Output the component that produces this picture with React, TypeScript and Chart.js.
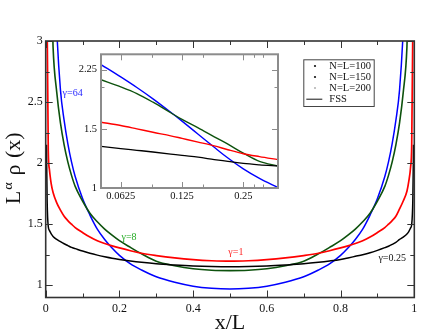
import React, { useEffect, useRef } from 'react';
import { Chart, registerables } from 'chart.js';

Chart.register(...registerables);

const SERIF = '"Liberation Serif", "Times New Roman", serif';

// ---------- main plot data ----------
const xOverL = [0.002, 0.004, 0.007, 0.01, 0.015, 0.02, 0.03, 0.04, 0.05, 0.06, 0.07, 0.08, 0.1, 0.12, 0.14, 0.16, 0.18, 0.2, 0.23, 0.26, 0.3, 0.35, 0.4, 0.45, 0.5,
  0.55, 0.6, 0.65, 0.7, 0.74, 0.77, 0.8, 0.82, 0.84, 0.86, 0.88, 0.9, 0.92, 0.93, 0.94, 0.95, 0.96, 0.97, 0.98, 0.985, 0.99, 0.993, 0.996, 0.998];

const gamma025 = [2.15, 1.68, 1.48, 1.45, 1.42, 1.40, 1.375, 1.357, 1.34, 1.325, 1.31, 1.30, 1.28, 1.262, 1.247, 1.234, 1.222, 1.212, 1.199, 1.188, 1.176, 1.166, 1.158, 1.153, 1.151,
  1.153, 1.158, 1.166, 1.176, 1.188, 1.199, 1.212, 1.224, 1.237, 1.25, 1.266, 1.286, 1.308, 1.32, 1.335, 1.352, 1.375, 1.395, 1.42, 1.44, 1.47, 1.5, 1.7, 2.15];

const gamma1 = [4.2, 3.1, 2.1, 1.95, 1.83, 1.76, 1.675, 1.615, 1.565, 1.53, 1.5, 1.472, 1.432, 1.395, 1.365, 1.342, 1.323, 1.306, 1.283, 1.262, 1.243, 1.224, 1.21, 1.201, 1.197,
  1.201, 1.21, 1.224, 1.243, 1.262, 1.283, 1.306, 1.323, 1.342, 1.365, 1.395, 1.432, 1.472, 1.5, 1.53, 1.565, 1.625, 1.69, 1.77, 1.85, 1.97, 2.15, 3.1, 4.2];

const gamma8 = [8, 6.5, 5.2, 4.4, 3.5, 2.95, 2.58, 2.33, 2.15, 2.01, 1.9, 1.81, 1.69, 1.59, 1.52, 1.46, 1.41, 1.365, 1.31, 1.258, 1.197, 1.16, 1.135, 1.123, 1.12,
  1.123, 1.135, 1.16, 1.197, 1.258, 1.31, 1.365, 1.41, 1.46, 1.52, 1.59, 1.69, 1.81, 1.9, 2.01, 2.15, 2.33, 2.58, 2.95, 3.5, 4.4, 5.2, 6.5, 8];

const gamma64 = [12, 9, 7, 5.8, 4.8, 4.1, 3.1, 2.6, 2.35, 2.16, 2.01, 1.89, 1.71, 1.575, 1.46, 1.375, 1.305, 1.245, 1.175, 1.125, 1.07, 1.025, 0.993, 0.976, 0.97,
  0.976, 0.993, 1.025, 1.07, 1.125, 1.175, 1.245, 1.305, 1.375, 1.46, 1.575, 1.71, 1.89, 2.01, 2.16, 2.35, 2.6, 3.1, 4.1, 4.8, 5.8, 7, 9, 12];

const mainXTicks = [0, 0.1, 0.2, 0.3, 0.4, 0.5, 0.6, 0.7, 0.8, 0.9, 1];
const mainXLabels = ['0', '', '0.2', '', '0.4', '', '0.6', '', '0.8', '', '1'];
const mainYTicks = [1, 1.25, 1.5, 1.75, 2, 2.25, 2.5, 2.75, 3];
const mainYLabels = ['1', '', '1.5', '', '2', '', '2.5', '', '3'];

const gammaTags = [
  { text: 'γ=64', x: 0.073, y: 2.575, color: '#1f1fff' },
  { text: 'γ=8', x: 0.226, y: 1.39, color: '#22aa22' },
  { text: 'γ=1', x: 0.516, y: 1.268, color: '#ff2a2a' },
  { text: 'γ=0.25', x: 0.94, y: 1.219, color: '#111111' },
];

const legendItems = ['N=L=100', 'N=L=150', 'N=L=200', 'FSS'];

// ---------- inset data (log-log) ----------
const insetX = [0.05, 0.0625, 0.075, 0.09, 0.11, 0.125, 0.15, 0.18, 0.21, 0.25, 0.3, 0.37];
const inBlue = [2.33, 2.141, 1.991, 1.842, 1.68, 1.581, 1.446, 1.322, 1.228, 1.14, 1.068, 1.003];
const inGreen = [2.10, 2.0, 1.91, 1.80, 1.675, 1.60, 1.51, 1.42, 1.35, 1.27, 1.2, 1.163];
const inRed = [1.57, 1.535, 1.50, 1.465, 1.43, 1.405, 1.37, 1.335, 1.30, 1.265, 1.24, 1.215];
const inBlack = [1.33, 1.31, 1.295, 1.28, 1.262, 1.25, 1.235, 1.215, 1.20, 1.183, 1.172, 1.163];

const insetXTicks = [0.0625, 0.089, 0.125, 0.159, 0.25, 0.283, 0.314];
const insetXLabels = ['0.0625', '', '0.125', '', '0.25', '', ''];
const insetYTicks = [1, 1.5, 2, 2.25];
const insetYLabels = ['1', '1.5', '', '2.25'];

const COLORS = { black: '#000000', red: '#ff0000', green: '#0d520d', blue: '#0000ff' };

function pts(xs: number[], ys: number[]) {
  return xs.map((x, i) => ({ x, y: ys[i] }));
}

function lineDs(data: any, color: string, width = 1.5) {
  return {
    data,
    borderColor: color,
    backgroundColor: color,
    borderWidth: width,
    pointRadius: 0,
    fill: false,
    cubicInterpolationMode: 'monotone' as const,
  };
}

function drawStretched(ctx: CanvasRenderingContext2D, text: string, x: number, y: number, sx: number) {
  ctx.save();
  ctx.translate(x, y);
  ctx.scale(sx, 1);
  ctx.fillText(text, 0, 0);
  ctx.restore();
}

const mainDecor = {
  id: 'mainDecor',
  afterDraw(chart: any) {
    const { ctx, chartArea: a } = chart;
    const xs = chart.scales.x;
    const ys = chart.scales.y;
    ctx.save();
    ctx.strokeStyle = '#333';
    ctx.lineWidth = 1;
    ctx.beginPath();
    xs.ticks.forEach((t: any, i: number) => {
      const p = Math.round(xs.getPixelForValue(t.value)) + 0.5;
      const len = mainXLabels[i] ? 7 : 4;
      ctx.moveTo(p, a.bottom); ctx.lineTo(p, a.bottom - len);
      ctx.moveTo(p, a.top); ctx.lineTo(p, a.top + len);
    });
    ys.ticks.forEach((t: any, i: number) => {
      const p = Math.round(ys.getPixelForValue(t.value)) + 0.5;
      const len = mainYLabels[i] ? 7 : 4;
      ctx.moveTo(a.left, p); ctx.lineTo(a.left + len, p);
      ctx.moveTo(a.right, p); ctx.lineTo(a.right - len, p);
    });
    ctx.stroke();
    ctx.lineWidth = 1.6;
    ctx.strokeRect(a.left, a.top, a.right - a.left, a.bottom - a.top);

    ctx.font = `10px ${SERIF}`;
    ctx.textAlign = 'center';
    ctx.textBaseline = 'middle';
    gammaTags.forEach((g) => {
      ctx.fillStyle = g.color;
      ctx.fillText(g.text, xs.getPixelForValue(g.x), ys.getPixelForValue(g.y));
    });

    const lx = a.left + 257.6;
    const ly = a.top + 18.3;
    ctx.fillStyle = '#fff';
    ctx.fillRect(lx, ly, 70.4, 46.7);
    ctx.strokeStyle = '#444';
    ctx.lineWidth = 1;
    ctx.strokeRect(lx + 0.5, ly + 0.5, 70.4, 46.7);
    const rows = [6.7, 17.7, 28.7, 39.4];
    ctx.font = `10.5px ${SERIF}`;
    ctx.textAlign = 'left';
    ctx.textBaseline = 'middle';
    legendItems.forEach((label, i) => {
      const ry = ly + rows[i];
      if (label === 'FSS') {
        ctx.strokeStyle = '#111';
        ctx.lineWidth = 1;
        ctx.beginPath();
        ctx.moveTo(lx + 3, ry + 0.5);
        ctx.lineTo(lx + 19, ry + 0.5);
        ctx.stroke();
      } else {
        ctx.fillStyle = i === 2 ? '#777' : '#111';
        const r = i === 2 ? 0.8 : 1.1;
        ctx.beginPath();
        ctx.arc(lx + 11.7, ry, r, 0, Math.PI * 2);
        ctx.fill();
      }
      ctx.fillStyle = '#111';
      ctx.fillText(label, lx + 26, ry + 0.5);
    });

    ctx.fillStyle = '#111';
    ctx.font = `20px ${SERIF}`;
    ctx.textAlign = 'center';
    ctx.textBaseline = 'alphabetic';
    drawStretched(ctx, 'x/L', (a.left + a.right) / 2, a.bottom + 31.5, 1.1);

    ctx.save();
    ctx.translate(a.left - 25.5, (a.top + a.bottom) / 2 - 1);
    ctx.rotate(-Math.PI / 2);
    ctx.scale(1.1, 1);
    ctx.textAlign = 'left';
    ctx.font = `20px ${SERIF}`;
    const wL = ctx.measureText('L').width;
    const wRho = ctx.measureText('ρ').width;
    const wX = ctx.measureText('(x)').width;
    ctx.font = `13px ${SERIF}`;
    const wA = ctx.measureText('α').width;
    const gap1 = 1, gap2 = 6, gap3 = 6;
    const total = wL + gap1 + wA + gap2 + wRho + gap3 + wX;
    let cx = -total / 2;
    ctx.font = `20px ${SERIF}`;
    ctx.fillText('L', cx, 0);
    cx += wL + gap1;
    ctx.font = `13px ${SERIF}`;
    ctx.fillText('α', cx, -8);
    cx += wA + gap2;
    ctx.font = `20px ${SERIF}`;
    ctx.fillText('ρ', cx, 0);
    cx += wRho + gap3;
    ctx.fillText('(x)', cx, 0);
    ctx.restore();

    ctx.restore();
  },
};

const insetDecor = {
  id: 'insetDecor',
  beforeDatasetsDraw(chart: any) {
    const { ctx, chartArea: a } = chart;
    ctx.save();
    ctx.fillStyle = '#fff';
    ctx.fillRect(a.left, a.top, a.right - a.left, a.bottom - a.top);
    ctx.restore();
  },
  afterDraw(chart: any) {
    const { ctx, chartArea: a } = chart;
    const xs = chart.scales.x;
    const ys = chart.scales.y;
    ctx.save();
    ctx.strokeStyle = '#8c8c8c';
    ctx.lineWidth = 1;
    ctx.beginPath();
    xs.ticks.forEach((t: any, i: number) => {
      const p = Math.round(xs.getPixelForValue(t.value)) + 0.5;
      const len = insetXLabels[i] ? 6 : 3.5;
      ctx.moveTo(p, a.bottom); ctx.lineTo(p, a.bottom - len);
      ctx.moveTo(p, a.top); ctx.lineTo(p, a.top + len);
    });
    ys.ticks.forEach((t: any, i: number) => {
      const p = Math.round(ys.getPixelForValue(t.value)) + 0.5;
      const len = insetYLabels[i] ? 6 : 3.5;
      ctx.moveTo(a.left, p); ctx.lineTo(a.left + len, p);
      ctx.moveTo(a.right, p); ctx.lineTo(a.right - len, p);
    });
    ctx.stroke();
    ctx.lineWidth = 2;
    ctx.strokeRect(a.left, a.top, a.right - a.left, a.bottom - a.top);
    ctx.restore();
  },
};

export default function App() {
  const mainRef = useRef<HTMLCanvasElement | null>(null);
  const insetRef = useRef<HTMLCanvasElement | null>(null);

  useEffect(() => {
    if (!mainRef.current || !insetRef.current) return;
    const tickFont = { family: SERIF, size: 12 };
    const main = new Chart(mainRef.current, {
      type: 'line',
      data: {
        datasets: [
          lineDs(pts(xOverL, gamma025), COLORS.black, 1.5),
          lineDs(pts(xOverL, gamma1), COLORS.red, 1.7),
          lineDs(pts(xOverL, gamma8), COLORS.green, 1.6),
          lineDs(pts(xOverL, gamma64), COLORS.blue, 1.5),
        ] as any,
      },
      options: {
        animation: false,
        responsive: false,
        events: [],
        layout: { padding: { left: 0, right: 21.7, top: 41, bottom: 0 } },
        plugins: { legend: { display: false }, tooltip: { enabled: false } },
        scales: {
          x: {
            type: 'linear',
            min: 0,
            max: 1,
            afterBuildTicks: (s: any) => { s.ticks = mainXTicks.map((v) => ({ value: v })); },
            afterFit: (s: any) => { s.height = 33.5; },
            grid: { display: false, drawTicks: false },
            border: { display: false },
            ticks: {
              autoSkip: false, maxRotation: 0, padding: 4, font: tickFont, color: '#111',
              callback: (_v: any, i: number) => mainXLabels[i],
            },
          },
          y: {
            type: 'linear',
            min: 0.9,
            max: 3,
            afterBuildTicks: (s: any) => { s.ticks = mainYTicks.map((v) => ({ value: v })); },
            afterFit: (s: any) => { s.width = 45.7; },
            grid: { display: false, drawTicks: false },
            border: { display: false },
            ticks: {
              autoSkip: false, padding: 3, font: tickFont, color: '#111',
              callback: (_v: any, i: number) => mainYLabels[i],
            },
          },
        },
      } as any,
      plugins: [mainDecor],
    });

    const inFont = { family: SERIF, size: 10.5 };
    const inset = new Chart(insetRef.current, {
      type: 'line',
      data: {
        datasets: [
          lineDs(pts(insetX, inBlack), COLORS.black, 1.3),
          lineDs(pts(insetX, inRed), COLORS.red, 1.4),
          lineDs(pts(insetX, inGreen), COLORS.green, 1.4),
          lineDs(pts(insetX, inBlue), COLORS.blue, 1.4),
        ] as any,
      },
      options: {
        animation: false,
        responsive: false,
        events: [],
        layout: { padding: { left: 0, right: 8, top: 8, bottom: 0 } },
        plugins: { legend: { display: false }, tooltip: { enabled: false } },
        scales: {
          x: {
            type: 'logarithmic',
            min: 0.05,
            max: 0.37,
            afterBuildTicks: (s: any) => { s.ticks = insetXTicks.map((v) => ({ value: v })); },
            afterFit: (s: any) => { s.height = 21; },
            grid: { display: false, drawTicks: false },
            border: { display: false },
            ticks: {
              autoSkip: false, maxRotation: 0, padding: 2, font: inFont, color: '#111',
              callback: (_v: any, i: number) => insetXLabels[i],
            },
          },
          y: {
            type: 'logarithmic',
            min: 1,
            max: 2.5,
            afterBuildTicks: (s: any) => { s.ticks = insetYTicks.map((v) => ({ value: v })); },
            afterFit: (s: any) => { s.width = 45; },
            grid: { display: false, drawTicks: false },
            border: { display: false },
            ticks: {
              autoSkip: false, padding: 4, font: inFont, color: '#111',
              callback: (_v: any, i: number) => insetYLabels[i],
            },
          },
        },
      } as any,
      plugins: [insetDecor],
    });

    return () => {
      main.destroy();
      inset.destroy();
    };
  }, []);

  return (
    <div style={{ position: 'absolute', left: 0, top: 0, width: 436, height: 331, background: '#fff' }}>
      <canvas ref={mainRef} width={436} height={331} style={{ position: 'absolute', left: 0, top: 0, width: 436, height: 331 }} />
      <canvas ref={insetRef} width={230} height={165} style={{ position: 'absolute', left: 56, top: 44, width: 230, height: 165 }} />
    </div>
  );
}
